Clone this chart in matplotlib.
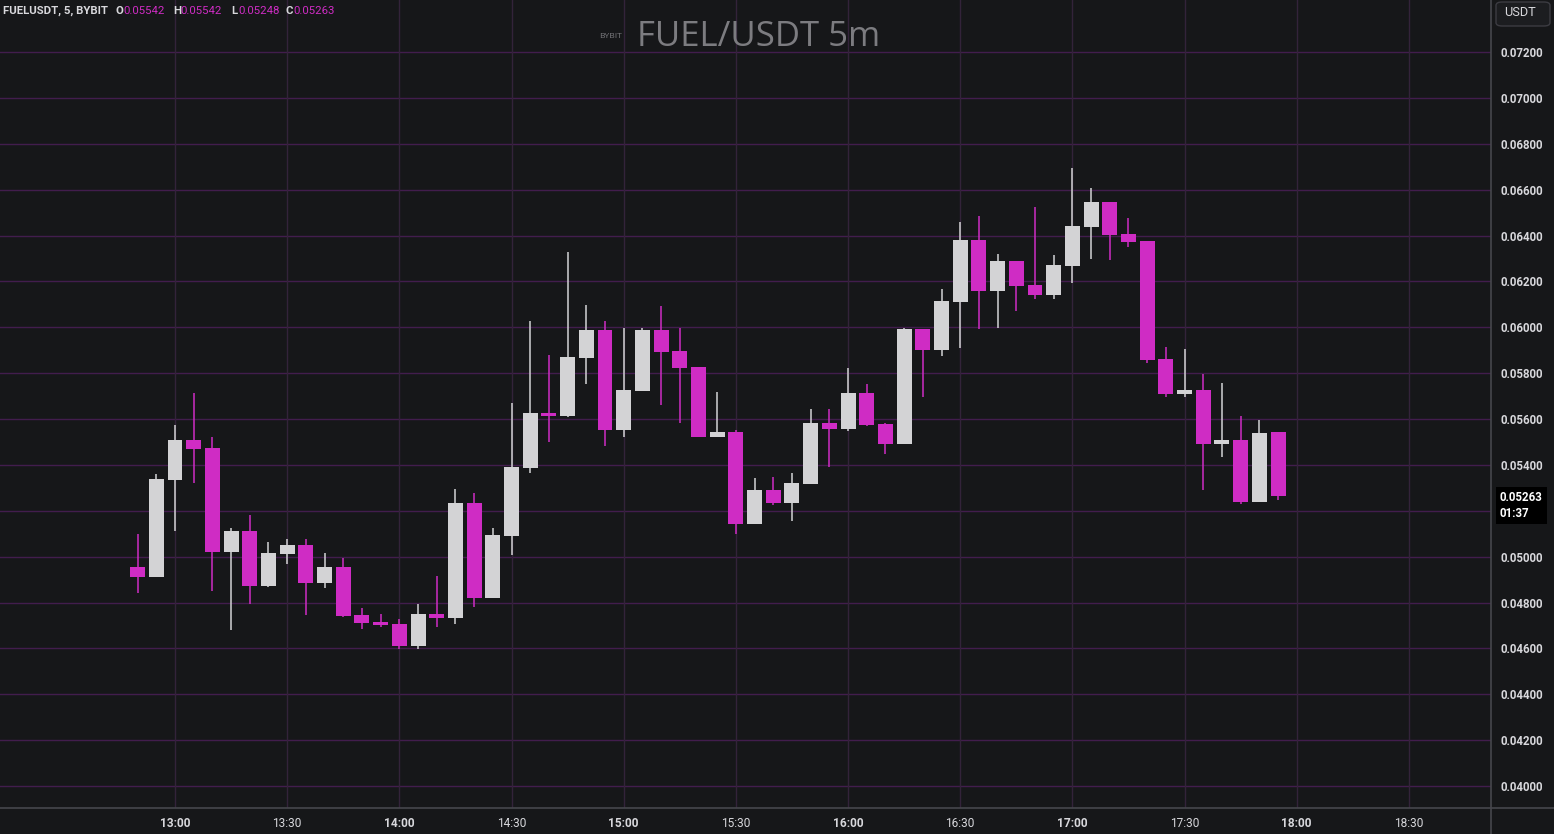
import numpy as np
import matplotlib
matplotlib.use("Agg")
import matplotlib.pyplot as plt
from matplotlib.lines import Line2D
from matplotlib.patches import FancyBboxPatch
from matplotlib.transforms import blended_transform_factory

# 5m candles FUEL/USDT, 12:50 .. 17:55
opens = [0.04955, 0.04911, 0.05334, 0.05508, 0.05473, 0.05020, 0.05112, 0.04872, 0.05011, 0.05051,
         0.04885, 0.04955, 0.04745, 0.04715, 0.04706, 0.04610, 0.04750, 0.04732, 0.05234, 0.04819,
         0.05090, 0.05386, 0.05626, 0.05613, 0.05866, 0.05988, 0.05552, 0.05722, 0.05988, 0.05896,
         0.05827, 0.05521, 0.05543, 0.05142, 0.05290, 0.05234, 0.05317, 0.05582, 0.05556, 0.05713,
         0.05578, 0.05491, 0.05992, 0.05901, 0.06110, 0.06380, 0.06158, 0.06289, 0.06184, 0.06141,
         0.06267, 0.06437, 0.06546, 0.06407, 0.06376, 0.05862, 0.05709, 0.05726, 0.05491, 0.05508,
         0.05238, 0.05542]
highs = [0.05099, 0.05360, 0.05574, 0.05713, 0.05521, 0.05125, 0.05181, 0.05064, 0.05077, 0.05077,
         0.05016, 0.04994, 0.04776, 0.04750, 0.04728, 0.04793, 0.04915, 0.05295, 0.05277, 0.05125,
         0.05670, 0.06027, 0.05879, 0.06328, 0.06097, 0.06027, 0.05997, 0.05997, 0.06093, 0.05997,
         0.05827, 0.05718, 0.05552, 0.05343, 0.05347, 0.05364, 0.05644, 0.05644, 0.05822, 0.05753,
         0.05582, 0.05997, 0.05992, 0.06167, 0.06459, 0.06485, 0.06319, 0.06289, 0.06524, 0.06315,
         0.06694, 0.06607, 0.06546, 0.06476, 0.06376, 0.05914, 0.05905, 0.05796, 0.05757, 0.05613,
         0.05596, 0.05542]
lows = [0.04841, 0.04911, 0.05112, 0.05321, 0.04850, 0.04680, 0.04793, 0.04867, 0.04968, 0.04745,
        0.04863, 0.04737, 0.04684, 0.04693, 0.04597, 0.04597, 0.04693, 0.04706, 0.04780, 0.04819,
        0.05007, 0.05364, 0.05500, 0.05609, 0.05753, 0.05482, 0.05521, 0.05722, 0.05661, 0.05582,
        0.05521, 0.05521, 0.05099, 0.05142, 0.05225, 0.05155, 0.05317, 0.05391, 0.05548, 0.05569,
        0.05447, 0.05491, 0.05696, 0.05875, 0.05909, 0.05992, 0.05997, 0.06071, 0.06123, 0.06123,
        0.06193, 0.06298, 0.06293, 0.06350, 0.05844, 0.05696, 0.05696, 0.05290, 0.05434, 0.05229,
        0.05238, 0.05248]
closes = [0.04911, 0.05338, 0.05508, 0.05469, 0.05020, 0.05112, 0.04872, 0.05016, 0.05051, 0.04885,
          0.04955, 0.04741, 0.04710, 0.04702, 0.04610, 0.04750, 0.04732, 0.05234, 0.04819, 0.05094,
          0.05391, 0.05626, 0.05613, 0.05870, 0.05988, 0.05552, 0.05726, 0.05988, 0.05892, 0.05822,
          0.05521, 0.05543, 0.05142, 0.05290, 0.05234, 0.05321, 0.05582, 0.05556, 0.05713, 0.05574,
          0.05491, 0.05992, 0.05901, 0.06114, 0.06380, 0.06158, 0.06289, 0.06180, 0.06141, 0.06271,
          0.06441, 0.06546, 0.06402, 0.06372, 0.05857, 0.05709, 0.05726, 0.05491, 0.05508, 0.05238,
          0.05539, 0.05263]

time_labels = ["13:00", "13:30", "14:00", "14:30", "15:00", "15:30",
               "16:00", "16:30", "17:00", "17:30", "18:00", "18:30"]
price_ticks = [0.040, 0.042, 0.044, 0.046, 0.048, 0.050, 0.052, 0.054, 0.056,
               0.058, 0.060, 0.062, 0.064, 0.066, 0.068, 0.070, 0.072]
countdown = "01:37"

bg = "#161719"
up_col = "#d3d3d5"
down_col = "#cf2cc4"
hgrid = "#421d4d"
vgrid = "#33233a"
axis_line = "#46464c"
label_col = "#d8d8dc"

o = np.array(opens)
h = np.array(highs)
l = np.array(lows)
c = np.array(closes)
x = np.arange(len(o))
cols = [up_col if cc >= oo else down_col for oo, cc in zip(o, c)]

W, H = 1554, 834
fig = plt.figure(figsize=(W / 100, H / 100), dpi=100)
fig.patch.set_facecolor(bg)
ax = fig.add_axes([0, 26 / H, 1491 / W, 808 / H])
ax.set_facecolor(bg)

# candles
ax.vlines(x, l, h, colors=cols, linewidth=1.1, zorder=2)
body = np.maximum(np.abs(c - o), 0.00005)
ax.bar(x, body, bottom=np.minimum(o, c), width=0.8, color=cols, linewidth=0, zorder=3)

ax.set_xlim(-7.36, 72.39)
ax.set_ylim(0.03904, 0.07427)

# grid + ticks
xt = np.arange(2, 2 + 6 * len(time_labels), 6)
ax.set_xticks(xt)
ax.set_xticklabels(time_labels)
ax.set_yticks(price_ticks)
# label hidden behind the last-price tag
ax.set_yticklabels(["" if abs(p - closes[-1]) < 0.0009 else f"{p:.5f}" for p in price_ticks])
ax.yaxis.tick_right()
for p in price_ticks:
    ax.axhline(p, color=hgrid, linewidth=1, zorder=1)
for t in xt:
    ax.axvline(t, color=vgrid, linewidth=1, zorder=1)

ax.tick_params(axis="y", length=0, pad=6.5, labelsize=8.3, labelcolor=label_col)
ax.tick_params(axis="x", length=0, pad=6.5, labelsize=8.6, labelcolor=label_col)
for lab in ax.get_yticklabels():
    lab.set_fontweight("bold")
    lab.set_family("Roboto")
for lab in ax.get_xticklabels():
    lab.set_family("Roboto")
    lab.set_fontweight("bold" if lab.get_text().endswith(":00") else "normal")
for s in ax.spines.values():
    s.set_visible(False)

# axis borders across whole figure
fig.add_artist(Line2D([0, 1], [26 / H, 26 / H], color=axis_line, linewidth=1.2))
fig.add_artist(Line2D([1491 / W, 1491 / W], [0, 1], color=axis_line, linewidth=1.2))

# title watermark
fig.text(759 / W, 1 - 37 / H, "FUEL/USDT 5m", ha="center", va="center",
         fontsize=25, color="#7c7c80", family="Open Sans")
fig.text(610 / W, 1 - 37 / H, "BYBIT", ha="center", va="center",
         fontsize=6, color="#7c7c80", family="Open Sans")

# header line
hy = 1 - 11 / H
fig.text(3 / W, hy, "FUELUSDT, 5, BYBIT", ha="left", va="center", fontsize=8.2,
         color=label_col, family="Roboto", fontweight="bold")
parts = [("O", opens[-1], 116), ("H", highs[-1], 173), ("L", lows[-1], 231), ("C", closes[-1], 286)]
for key, val, px in parts:
    fig.text(px / W, hy, key, ha="left", va="center", fontsize=8.2, color=label_col,
             family="Roboto", fontweight="bold")
    fig.text((px + 7) / W, hy, f"{val:.5f}", ha="left", va="center", fontsize=8.2,
             color=down_col, family="Roboto")

# currency box
fig.add_artist(FancyBboxPatch((1496 / W, 1 - 26 / H), 54 / W, 24 / H,
                              boxstyle="round,pad=0,rounding_size=0.004",
                              transform=fig.transFigure, facecolor="#1c1d20",
                              edgecolor="#3c3c42", linewidth=1))
fig.text(1504 / W, 1 - 13 / H, "USDT", ha="left", va="center", fontsize=9.2,
         color=label_col, family="Roboto")

# last price label
tr = blended_transform_factory(ax.transAxes, ax.transData)
ax.annotate(f"{closes[-1]:.5f}\n{countdown}", xy=(1, closes[-1]), xycoords=tr,
            xytext=(9, 5), textcoords="offset pixels", ha="left", va="top",
            fontsize=8.3, color="#ffffff", family="Roboto", fontweight="bold",
            linespacing=1.3, annotation_clip=False, zorder=10,
            bbox=dict(boxstyle="square,pad=0.35", facecolor="#000000", edgecolor="none"))

fig.savefig("out.png", dpi=100, facecolor=bg)
